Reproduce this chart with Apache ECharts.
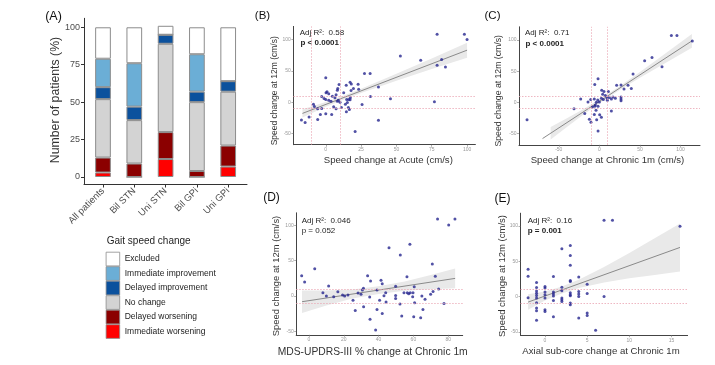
<!DOCTYPE html>
<html><head><meta charset="utf-8">
<script src="https://cdn.jsdelivr.net/npm/echarts@6/dist/echarts.min.js"></script>
<style>html,body{margin:0;padding:0;background:#fff}#c{width:715px;height:365px}</style>
</head><body><div id="c"></div>
<script>
// ---------- Panel A data ----------
const groups = ['All patients','Bil STN','Uni STN','Bil GPi','Uni GPi'];
const immediateWorsening   = [3, 0, 12, 0, 7];
const delayedWorsening     = [10, 9, 18, 4, 14];
const noChange             = [39, 29, 59, 46, 36];
const delayedImprovement   = [8, 9, 6, 7, 7];
const immediateImprovement = [19, 29, 0, 25, 0];
const excluded             = [21, 24, 6, 18, 36];
const pctTicks = [0, 25, 50, 75, 100];

// ---------- Panel B data ----------
const bPoints = [[78.8,108.5],[98.1,108.5],[100,100],[52.8,73.9],[67.2,67],[82,68],[78.8,59],[84.7,56],[76.9,0.5],[27.4,45.7],[31.4,45.7],[0,38.8],[37.3,24],[31.6,9],[45.8,5.3],[25.7,-3.7],[37.3,-29],[20.8,-46.8],[17.2,31.9],[18.1,29],[14.5,27],[9.4,28],[8.5,21.8],[8.2,19],[19.6,21.8],[17.9,18.6],[22.9,28.7],[23.3,20.7],[12.7,14.9],[0.2,14.9],[0.9,16.5],[-2.9,9],[2.1,13.3],[4.7,9.6],[7.3,11.7],[-1.2,5.8],[0,4.3],[2.1,3.2],[3.7,1.6],[6.5,6.9],[8.2,1.6],[8.9,3.2],[10.1,0],[14.8,4.3],[16.2,4.3],[17.4,6.9],[17.2,3.7],[13.9,-3.2],[15.3,-0.5],[5.6,-7.4],[7.3,-10.6],[11.1,-8.5],[16,-8.5],[16.7,-11.7],[14.6,-15.4],[0,-18.6],[4.2,-19.7],[-2.9,-10.1],[-5.7,-10.6],[-8.7,-3.2],[-8,-6.9],[-3.8,-19.7],[-5.7,-27.6],[-11.8,-23.9],[-17.2,-28.7],[-14.6,-32.4]];
const bFit = [[-16.5,-18],[100,83]];
const bBandX  = [-16.5, 0, 12, 25, 50, 75, 100];
const bBandLo = [-24.5, -7.5, 3.4, 14.5, 34.2, 52.8, 71];
const bBandHi = [-11.5, 0.1, 10, 21.5, 45.2, 69.8, 95];
const bTicksX = [0, 25, 50, 75, 100];

// ---------- Panel C data ----------
const cPoints = [[88.7,107],[95.6,107],[114.5,98.4],[64.9,72],[55.8,66.7],[77.2,57],[41.5,45.2],[21.3,27.4],[26.7,27.9],[35.3,27.4],[30.4,21.5],[39.4,22],[26.7,8.7],[26.7,5.4],[26.7,2.7],[19.7,6.5],[14.8,5.4],[16.8,8.7],[14.8,-13.9],[5.7,17.3],[11.1,17.3],[2.9,19.4],[-1.6,37.7],[-5.7,28.5],[4.1,13],[7.4,10.8],[2.5,6.5],[4.9,4.4],[9.9,3.3],[9.4,7],[12.3,7.6],[-2,3.8],[-3.7,0],[-4.9,-4.2],[0,0.6],[-6.2,5.4],[-10.7,4.4],[-14,0.6],[-23,5.4],[-31.2,-10.2],[-18,-17.7],[-8.6,-7.5],[-5.7,-6.4],[-1.6,-6.4],[-4.1,-12.8],[-6.2,-19.3],[0.4,-19.9],[2.5,-23.7],[-3.3,-27.9],[-12.3,-26.9],[-10.3,-31.8],[-1.6,-45.7],[-89.1,-27.9]];
const cFit = [[-70,-58],[114,98.4]];
const cBandX  = [-60, -40, -20, 0, 25, 50, 75, 114];
const cBandLo = [-59.5, -39.5, -20, -1.5, 19.75, 39.5, 58.25, 87.4];
const cBandHi = [-39.5, -25.5, -11, 4.5, 25.75, 48.5, 72.25, 109.4];
const cTicksX = [-50, 0, 50, 100];

// ---------- Panel D data ----------
const dPoints = [[73.9,109],[83.9,109],[80.3,100.6],[46,68.5],[58,73.2],[52.5,58],[70.9,45.3],[3.3,38.7],[-4.2,28.8],[-2.5,19.8],[33.7,28.8],[35.4,21.2],[56.3,27.4],[72.6,27.9],[41.4,22.2],[42.1,17.5],[49.8,13.7],[60.5,13.2],[11.3,14.2],[8,4.7],[10,0],[14.2,-0.9],[16.6,6.1],[19.3,1.4],[20.5,0],[22.4,1.4],[28.2,4.2],[30.7,8.5],[31.3,10.9],[29.9,2.4],[25.3,-6.1],[26.6,-20.3],[31.4,-15.1],[34.9,-1.4],[40.6,-6.1],[44.3,-8.5],[43.1,0.5],[39.1,8.5],[44.1,4.7],[39.1,-18.9],[42.1,-24.6],[35.1,-33],[38.3,-48.2],[49.8,0.9],[49.8,-3.3],[54.6,4.7],[56.5,4.7],[52.3,-11.3],[53.3,-28.3],[60.2,-29.3],[58.2,4.7],[57.3,3.3],[59.8,4.7],[59.6,-0.9],[60.7,-9.4],[64.9,0],[66.7,-4.7],[65.5,-18.9],[64.2,-30.7],[69.9,2.4],[71.3,6.6],[74.5,9.9],[77.6,-10.4]];
const dFit = [[-4,-8],[84,25]];
const dBandX  = [-4, 10, 25, 40, 55, 70, 84];
const dBandLo = [-24, -13.25, -3.6, 3, 7.6, 9.75, 11];
const dBandHi = [8, 7.75, 9.4, 14, 20.6, 29.75, 39];
const dTicksX = [0, 20, 40, 60, 80];

// ---------- Panel E data ----------
const ePoints = [[-2,38.5],[-2,28.7],[-2,-1.8],[-1,19.8],[-1,12.7],[-1,7.6],[-1,4.7],[-1,1.5],[-1,-2.3],[-1,-8.9],[-1,-16.4],[-1,-20.2],[-1,-33.8],[0,14.1],[0,11.8],[0,6.2],[0,2.4],[0,-2.3],[0,-18.8],[0,-21.2],[1,28.2],[1,6.2],[1,3.3],[1,0.5],[1,-5.6],[1,-28.6],[2,67.6],[2,13.2],[2,8],[2,-2.3],[2,-4.7],[2,-7],[3,72.3],[3,57.8],[3,44.1],[3,22.6],[3,21.2],[3,5.2],[3,2.4],[3,1],[3,-9.4],[3,-11.8],[4,27.7],[4,7.1],[4,3.3],[4,0],[4,-30.5],[5,17.4],[5,4.3],[5,-23.5],[5,-26.8],[6,-47.8],[7,108],[7,0],[8,108],[16,99.5]];
const eFit = [[-2,-8],[16,69.4]];
const eBandX  = [-2, 0, 2, 4, 7, 10, 13, 16];
const eBandLo = [-19, -5.9, 4.2, 11.8, 19.7, 25.6, 30.5, 35.4];
const eBandHi = [3, 7.1, 14.2, 23.8, 41.7, 61.6, 82.5, 103.4];
const eTicksX = [0, 5, 10, 15];

const speedTicksY = [-50, 0, 50, 100];
const refLines = [-10, 10];

// ---------- build ----------
const FF = 'Liberation Sans, Arial, sans-serif';
const chart = echarts.init(document.getElementById('c'), null, {renderer:'canvas'});

function sAxis(gi, min, max, ticks){
  return {type:'value', gridIndex:gi, min:min, max:max,
    axisLine:{show:true, onZero:false, lineStyle:{color:'#444', width:1}},
    axisTick:{show:true, length:2, customValues:ticks, lineStyle:{color:'#777', width:0.6}},
    axisLabel:{customValues:ticks, fontSize:5, color:'#999', margin:2.5, fontFamily:FF},
    splitLine:{show:false}};
}
function ribbon(gi, xs, lo, hi){
  const data = xs.map((x,i)=>[x, lo[i], hi[i]]);
  return {type:'custom', xAxisIndex:gi, yAxisIndex:gi, silent:true, z:1, data:data,
    encode:{x:0, y:[1,2]},
    renderItem:function(params, api){
      if (params.dataIndex !== 0) return null;
      const top = data.map(d=>api.coord([d[0], d[2]]));
      const bot = data.map(d=>api.coord([d[0], d[1]])).reverse();
      return {type:'polygon', shape:{points:top.concat(bot)}, style:{fill:'#e9e9e9'}};
    }};
}
function fitLine(gi, pts){
  return {type:'line', xAxisIndex:gi, yAxisIndex:gi, data:pts, symbol:'none', silent:true, z:3,
    lineStyle:{color:'#8a8a8a', width:1}};
}
function points(gi, pts, vertical){
  const ml = refLines.map(v=>({yAxis:v}));
  if (vertical) refLines.forEach(v=>ml.push({xAxis:v}));
  return {type:'scatter', xAxisIndex:gi, yAxisIndex:gi, data:pts, symbolSize:3, z:4,
    itemStyle:{color:'#26268f'},
    markLine:{silent:true, symbol:['none','none'], label:{show:false}, animation:false,
      lineStyle:{color:'#eaa5b2', type:[1.5,1.5], width:0.8}, emphasis:{disabled:true}, data:ml}};
}
function txt(x, y, s, size, opts){
  opts = opts || {};
  return {type:'text', x:x, y:y, rotation:opts.rot || 0, silent:true,
    style:{text:s, fontSize:size, fontFamily:FF, fontWeight:opts.bold?'bold':'normal', fill:opts.color||'#1e1e1e',
      align:opts.align||'center', textAlign:opts.align||'center', verticalAlign:'middle', textVerticalAlign:'middle'}};
}

const barStyle = c => ({color:c, borderColor:'#8c8c8c', borderWidth:1});
// bars live in grid 5 (category axis), axis lines of panel A drawn by grid 0
const barSeries = [
  ['Immediate worsening', immediateWorsening, '#ff0000'],
  ['Delayed worsening', delayedWorsening, '#8b0000'],
  ['No change', noChange, '#d3d3d3'],
  ['Delayed improvement', delayedImprovement, '#0b519d'],
  ['Immediate improvement', immediateImprovement, '#6baed6'],
  ['Excluded', excluded, '#ffffff']
].map(([name, vals, col]) => ({
  name:name, type:'bar', stack:'a', xAxisIndex:5, yAxisIndex:5, barWidth:15.7,
  data: vals, itemStyle:barStyle(col)
}));

const option = {
  animation:false,
  backgroundColor:'#ffffff',
  textStyle:{fontFamily:FF},
  grid:[
    {left:84, top:18.3, width:163, height:166.2, containLabel:false, outerBoundsMode:'none'},
    {left:293.4, top:26.4, width:182, height:118.3, containLabel:false, outerBoundsMode:'none'},
    {left:519, top:26.8, width:181, height:118, containLabel:false, outerBoundsMode:'none'},
    {left:296.2, top:212.8, width:166.5, height:122, containLabel:false, outerBoundsMode:'none'},
    {left:520.5, top:213.2, width:167.1, height:122, containLabel:false, outerBoundsMode:'none'},
    {left:87.35, top:18.3, width:156.5, height:166.2, containLabel:false, outerBoundsMode:'none'}
  ],
  xAxis:[
    {type:'value', gridIndex:0, min:0, max:1,
      axisLine:{show:true, onZero:false, lineStyle:{color:'#333', width:1}},
      axisTick:{show:false}, axisLabel:{show:false}, splitLine:{show:false}},
    sAxis(1, -22.9, 105.9, bTicksX),
    sAxis(2, -99, 124, cTicksX),
    sAxis(3, -7.35, 88.35, dTicksX),
    sAxis(4, -2.9, 16.9, eTicksX),
    {type:'category', gridIndex:5, data:groups, boundaryGap:true,
      axisLine:{show:false, onZero:false},
      axisTick:{show:true, length:3, alignWithLabel:true, lineStyle:{color:'#333'}},
      axisLabel:{rotate:45, fontSize:9.5, color:'#4d4d4d', margin:5, fontFamily:FF, interval:0},
      splitLine:{show:false}}
  ],
  yAxis:[
    {type:'value', gridIndex:0, min:-5, max:106,
      axisLine:{show:true, onZero:false, lineStyle:{color:'#333', width:1}},
      axisTick:{show:true, length:3, customValues:pctTicks, lineStyle:{color:'#333'}},
      axisLabel:{customValues:pctTicks, fontSize:9, color:'#4d4d4d', margin:4, fontFamily:FF},
      splitLine:{show:false}},
    sAxis(1, -68, 121, speedTicksY),
    sAxis(2, -68, 121, speedTicksY),
    sAxis(3, -54.85, 117.85, speedTicksY),
    sAxis(4, -54.85, 117.85, speedTicksY),
    {type:'value', gridIndex:5, min:-5, max:106, show:false, splitLine:{show:false}}
  ],
  legend:{orient:'vertical', left:105.7, top:251.8, itemWidth:13.6, itemHeight:13.7, itemGap:0, padding:0,
    icon:'rect', selectedMode:false,
    data:['Excluded','Immediate improvement','Delayed improvement','No change','Delayed worsening','Immediate worsening'],
    itemStyle:{borderColor:'#8c8c8c', borderWidth:0.8},
    textStyle:{fontSize:8.5, color:'#222', fontFamily:FF}},
  series: barSeries.concat([
    ribbon(1, bBandX, bBandLo, bBandHi), fitLine(1, bFit), points(1, bPoints, true),
    ribbon(2, cBandX, cBandLo, cBandHi), fitLine(2, cFit), points(2, cPoints, true),
    ribbon(3, dBandX, dBandLo, dBandHi), fitLine(3, dFit), points(3, dPoints, false),
    ribbon(4, eBandX, eBandLo, eBandHi), fitLine(4, eFit), points(4, ePoints, false)
  ]),
  graphic:[
    txt(53.5, 16.5, '(A)', 12.5, {color:'#111'}),
    txt(262.5, 16, '(B)', 11.5, {color:'#111'}),
    txt(492.5, 16, '(C)', 11.5, {color:'#111'}),
    txt(271.5, 198, '(D)', 12, {color:'#111'}),
    txt(502.5, 198.5, '(E)', 12, {color:'#111'}),
    txt(55.5, 100, 'Number of patients (%)', 12.3, {rot:Math.PI/2, color:'#333'}),
    txt(106.7, 241.7, 'Gait speed change', 10, {align:'left', color:'#1e1e1e'}),
    txt(388.3, 160, 'Speed change at Acute (cm/s)', 9.6, {color:'#333'}),
    txt(275, 90.8, 'Speed change at 12m (cm/s)', 8.5, {rot:Math.PI/2, color:'#333'}),
    txt(607.5, 160, 'Speed change at Chronic 1m (cm/s)', 9.6, {color:'#333'}),
    txt(499, 90.8, 'Speed change at 12m (cm/s)', 8.7, {rot:Math.PI/2, color:'#333'}),
    txt(372.7, 351.7, 'MDS-UPDRS-III % change at Chronic 1m', 10.3, {color:'#333'}),
    txt(276.7, 276, 'Speed change at 12m (cm/s)', 9.4, {rot:Math.PI/2, color:'#333'}),
    txt(601, 351.7, 'Axial sub-core change at Chronic 1m', 9.6, {color:'#333'}),
    txt(502.7, 276, 'Speed change at 12m (cm/s)', 9.5, {rot:Math.PI/2, color:'#333'}),
    txt(299.7, 32.7, 'Adj R\u00b2:  0.58', 8, {align:'left'}),
    txt(300.5, 43, 'p < 0.0001', 8, {align:'left', bold:true}),
    txt(525, 32.7, 'Adj R\u00b2:  0.71', 8, {align:'left'}),
    txt(525.5, 43.3, 'p < 0.0001', 8, {align:'left', bold:true}),
    txt(301.7, 220.7, 'Adj R\u00b2:  0.046', 8, {align:'left'}),
    txt(301.7, 230.7, 'p = 0.052', 8, {align:'left'}),
    txt(527.7, 220.7, 'Adj R\u00b2:  0.16', 8, {align:'left'}),
    txt(527.7, 231, 'p = 0.001', 8, {align:'left', bold:true})
  ]
};
chart.setOption(option);
</script>
</body></html>
